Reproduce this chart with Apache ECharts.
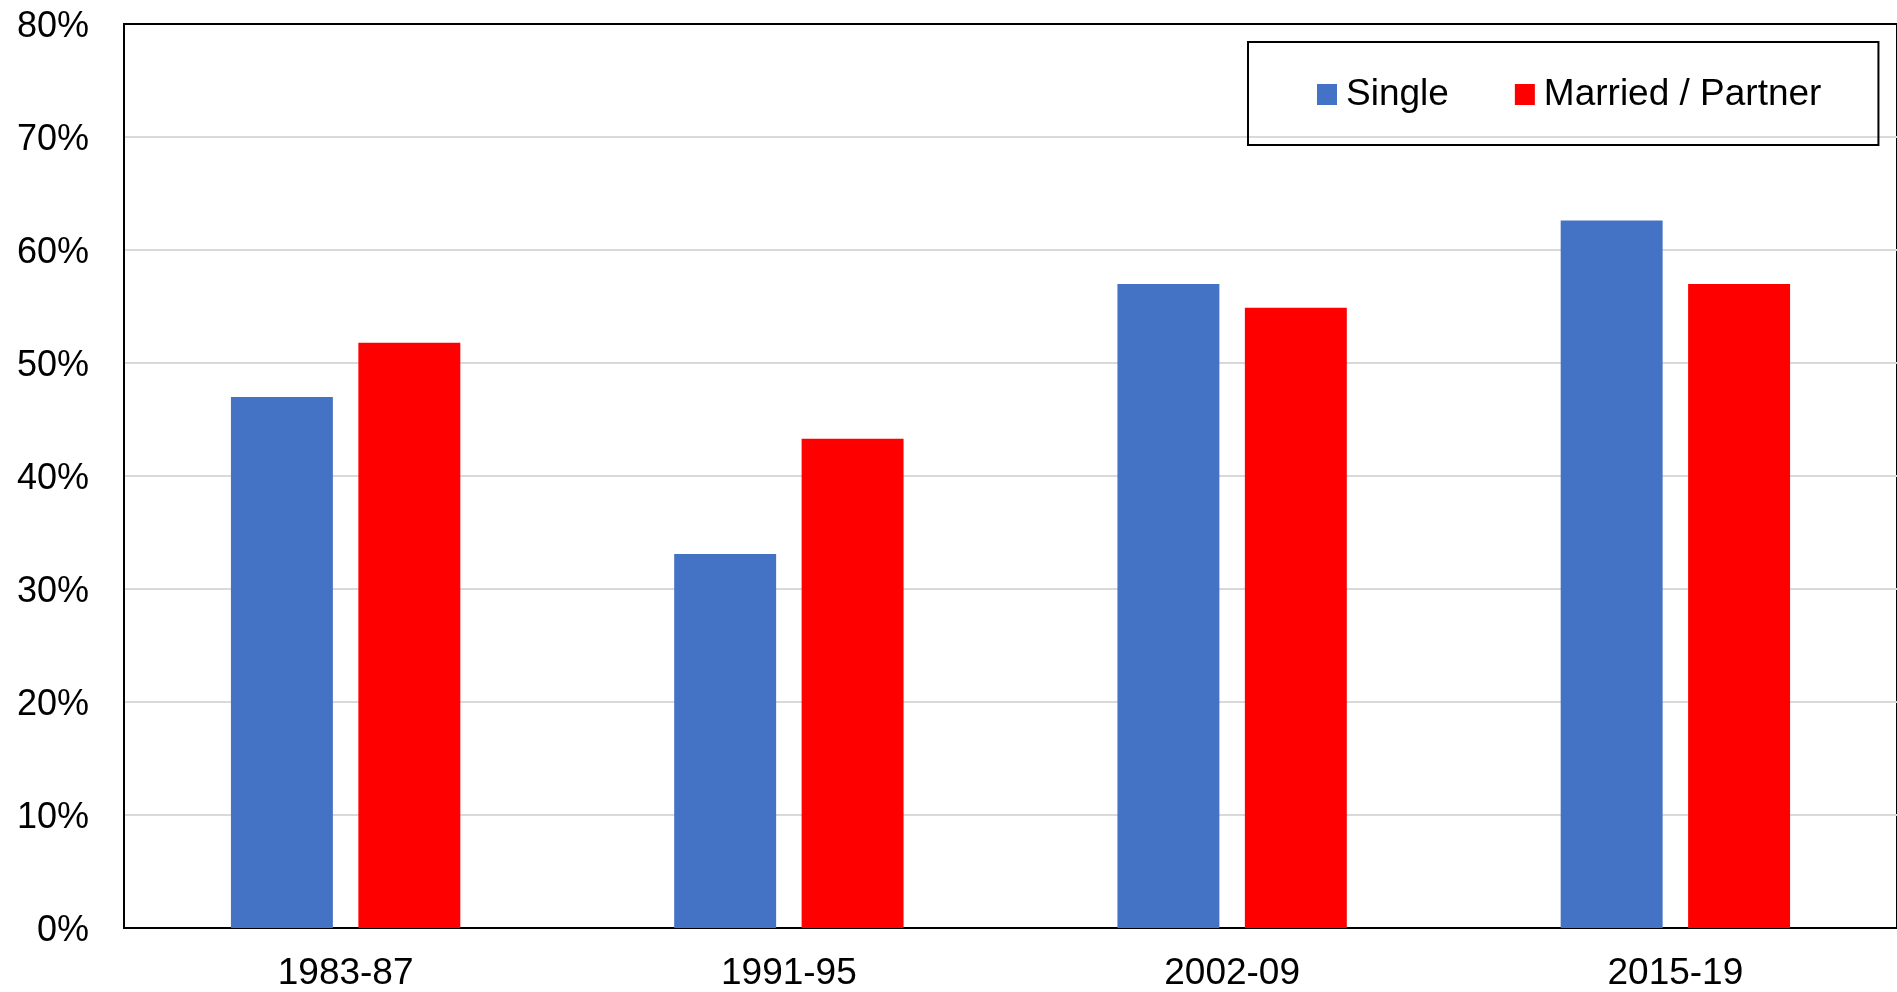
<!DOCTYPE html>
<html>
<head>
<meta charset="utf-8">
<script src="https://cdn.jsdelivr.net/npm/echarts@6/dist/echarts.min.js"></script>
<style>
html,body{margin:0;padding:0;background:#fff;}
#chart{width:1897px;height:992px;}
</style>
</head>
<body>
<div id="chart"></div>
<script>
const categories = ['1983-87', '1991-95', '2002-09', '2015-19'];
const singleValues = [47.0, 33.1, 57.0, 62.6];
const marriedValues = [51.8, 43.3, 54.9, 57.0];
const seriesNames = ['Single', 'Married / Partner'];
const yTicks = [0, 10, 20, 30, 40, 50, 60, 70, 80];

const chart = echarts.init(document.getElementById('chart'));
const font = 'Liberation Sans, Arial, sans-serif';
chart.setOption({
  animation: false,
  backgroundColor: '#fff',
  textStyle: { fontFamily: font },
  grid: {
    left: 124, top: 24, width: 1776, height: 905,
    show: true, borderColor: '#000', borderWidth: 2, backgroundColor: 'transparent'
  },
  legend: {
    data: seriesNames,
    left: 1248, top: 42,
    orient: 'horizontal',
    padding: [34, 57, 32, 69],
    itemGap: 66,
    itemWidth: 20, itemHeight: 21,
    icon: 'rect',
    borderColor: '#000', borderWidth: 2,
    textStyle: { fontSize: 37, color: '#000', fontFamily: font, padding: [0, 0, 0, 4] }
  },
  xAxis: [{
    type: 'category',
    data: categories,
    axisLine: { show: true, lineStyle: { color: '#000', width: 2 } },
    axisTick: { show: false },
    axisLabel: { fontSize: 37, color: '#000', margin: 27, fontFamily: font },
    splitLine: { show: false }
  }],
  yAxis: {
    type: 'value',
    min: yTicks[0], max: yTicks[yTicks.length - 1], interval: 10,
    axisLine: { show: true, lineStyle: { color: '#000', width: 2 } },
    axisTick: { show: false },
    axisLabel: {
      color: '#000', margin: 35, fontFamily: font,
      formatter: v => '{a|' + v + '%}',
      rich: { a: { fontSize: 36, color: '#000', fontFamily: font, padding: [7, 0, 0, 0] } }
    },
    splitLine: { show: true, showMaxLine: false, showMinLine: false, lineStyle: { color: '#d9d9d9', width: 2 } }
  },
  series: [
    {
      name: seriesNames[0], type: 'bar', data: singleValues,
      barWidth: '23%', barGap: '25%',
      itemStyle: { color: '#4472c4' }
    },
    {
      name: seriesNames[1], type: 'bar', data: marriedValues,
      barWidth: '23%', barGap: '25%',
      itemStyle: { color: '#ff0000' }
    }
  ]
});
</script>
</body>
</html>
